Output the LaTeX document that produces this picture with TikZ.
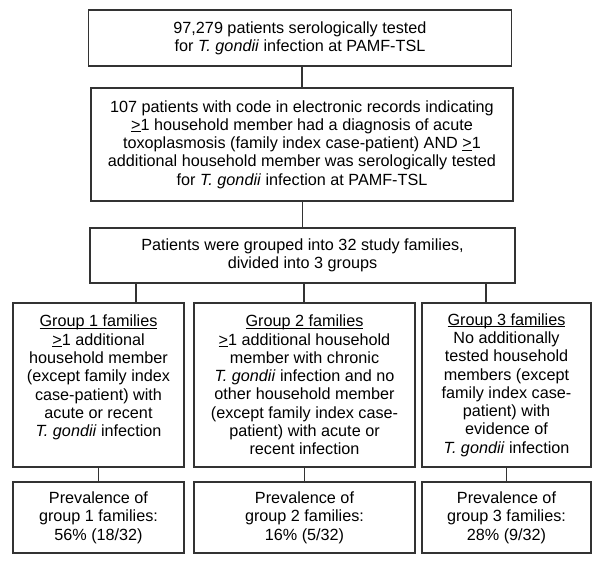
\documentclass[tikz,border=0pt]{standalone}
\usepackage{fontspec}
\setmainfont{Liberation Sans}
\newcommand{\myul}[1]{\leavevmode\setbox0\hbox{#1}\rlap{\rule[-1.8pt]{\wd0}{0.8pt}}\box0\relax}
\begin{document}
\begin{tikzpicture}[x=1pt,y=-1pt,
  box/.style={draw=black!80, line width=1.1pt, align=center, inner sep=0pt,
    font=\fontsize{16.2}{18.3}\selectfont},
  link/.style={draw=black!80, line width=1.1pt}]
\useasboundingbox (0,0) rectangle (600,563);
\node[box, minimum width=423pt, minimum height=56pt] (b1) at (300,38)
  {97,279 patients serologically tested\\for \textit{T. gondii} infection at PAMF-TSL};
\node[box, minimum width=422pt, minimum height=113pt] (b2) at (302,144.5)
  {107 patients with code in electronic records indicating\\
   \myul{>}1 household member had a diagnosis of acute\\
   toxoplasmosis (family index case-patient) AND \myul{>}1\\
   additional household member was serologically tested\\
   for \textit{T. gondii} infection at PAMF-TSL};
\node[box, minimum width=425pt, minimum height=55pt] (b3) at (302.5,255.5)
  {Patients were grouped into 32 study families,\\divided into 3 groups};
\node[box, minimum width=171pt, minimum height=164pt] (g1) at (98.5,385)
  {\myul{Group 1 families}\\\myul{>}1 additional\\household member\\(except family index\\case-patient) with\\acute or recent\\\textit{T. gondii} infection\\\mbox{}};
\node[box, minimum width=221pt, minimum height=164pt] (g2) at (304.5,385)
  {\myul{Group 2 families}\\\myul{>}1 additional household\\member with chronic\\\textit{T. gondii} infection and no\\other household member\\(except family index case-\\patient) with acute or\\recent infection};
\node[box, minimum width=169pt, minimum height=164pt] (g3) at (506.5,385)
  {\myul{Group 3 families}\\No additionally\\tested household\\members (except\\family index case-\\patient) with\\evidence of\\\textit{T. gondii} infection};
\node[box, minimum width=171pt, minimum height=71pt] (p1) at (98.5,517.5)
  {Prevalence of\\group 1 families:\\56\% (18/32)};
\node[box, minimum width=221pt, minimum height=71pt] (p2) at (304.5,517.5)
  {Prevalence of\\group 2 families:\\16\% (5/32)};
\node[box, minimum width=169pt, minimum height=71pt] (p3) at (506.5,517.5)
  {Prevalence of\\group 3 families:\\28\% (9/32)};
\coordinate (c1) at (136,283);
\coordinate (c2) at (304,283);
\coordinate (c3) at (486,283);
\draw[link] (b2.north) -- (b2.north |- b1.south);
\draw[link] (b3.north) -- (b3.north |- b2.south);
\draw[link] (c1) -- (c1 |- g1.north);
\draw[link] (c2) -- (c2 |- g2.north);
\draw[link] (c3) -- (c3 |- g3.north);
\draw[link] (g1.south) -- (p1.north);
\draw[link] (g2.south) -- (p2.north);
\draw[link] (g3.south) -- (p3.north);
\end{tikzpicture}
\end{document}
